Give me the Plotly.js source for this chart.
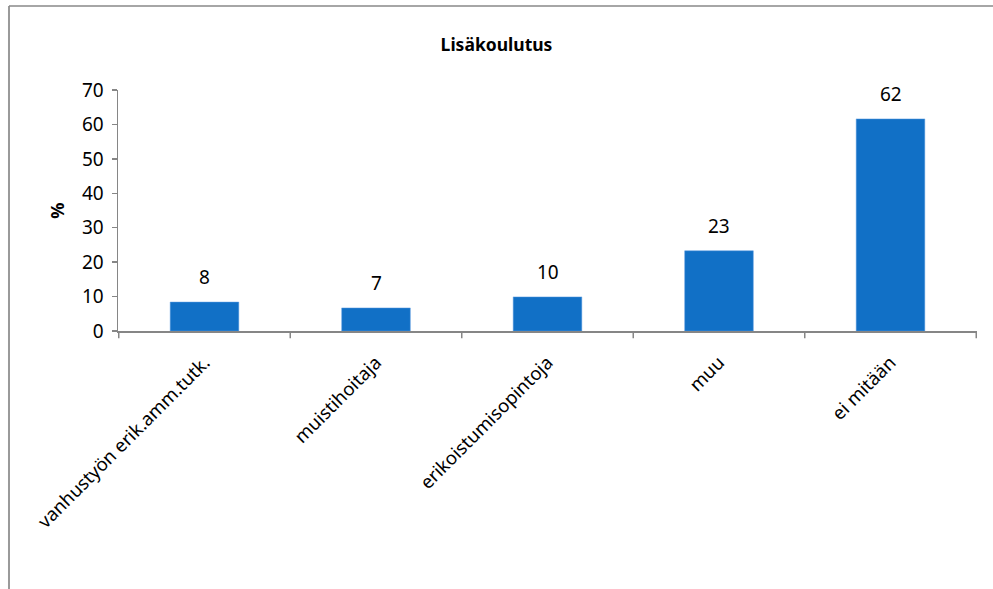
<!DOCTYPE html>
<html>
<head>
<meta charset="utf-8">
<script src="https://cdn.plot.ly/plotly-3.0.1.min.js"></script>
<style>html,body{margin:0;padding:0;background:#fff;}#chart{width:993px;height:589px;}</style>
</head>
<body>
<div id="chart"></div>
<script>
const categories = ["vanhustyön erik.amm.tutk.", "muistihoitaja", "erikoistumisopintoja", "muu", "ei mitään"];
const values = [8.4, 6.7, 9.9, 23.3, 61.6];
const labels = ["8", "7", "10", "23", "62"];
const yTicks = [0, 10, 20, 30, 40, 50, 60, 70];

const FONT = "Noto Sans, Liberation Sans, Arial, sans-serif";

const trace = {
  type: "bar",
  x: categories,
  y: values,
  marker: {color: "#1170C6", line: {color: "#5a9be0", width: 0.5}},
  width: 0.4,
  hoverinfo: "none"
};

const valueLabels = categories.map(function(c, i){
  return {x: c, y: values[i], xref: "x", yref: "y", text: labels[i], showarrow: false,
          yanchor: "middle", yshift: 25, font: {family: FONT, size: 19, color: "#000"}};
});

const layout = {
  width: 993, height: 589,
  margin: {l: 118, r: 16, t: 90, b: 258},
  paper_bgcolor: "#fff", plot_bgcolor: "#fff",
  showlegend: false,
  title: {text: "<b>Lisäkoulutus</b>", font: {family: FONT, size: 17.5, color: "#000"}, x: 0.5, xanchor: "center", y: 0.923, yanchor: "middle"},
  xaxis: {
    type: "category",
    tickangle: -45,
    tickfont: {family: FONT, size: 18.5, color: "#000"},
    ticklabelstandoff: 12,
    showline: true, linecolor: "#868686", linewidth: 1.5,
    ticks: "", showgrid: false, zeroline: false,
    fixedrange: true
  },
  yaxis: {
    range: [0, 70],
    tickvals: yTicks,
    ticktext: yTicks.map(String),
    tickfont: {family: FONT, size: 19, color: "#000"},
    ticklabelstandoff: 4,
    showline: true, linecolor: "#868686", linewidth: 1.5,
    ticks: "outside", ticklen: 5, tickcolor: "#868686", tickwidth: 1.5,
    showgrid: false, zeroline: false,
    title: {text: "<b>%</b>", font: {family: FONT, size: 18, color: "#000"}, standoff: 12},
    fixedrange: true
  },
  annotations: valueLabels,
  shapes: [
    {type: "line", xref: "paper", yref: "paper", x0: -0.1269, x1: -0.1269, y0: 1.349, y1: -1.2, line: {color: "#9a9a9a", width: 2}},
    {type: "line", xref: "paper", yref: "paper", x0: -0.1269, x1: 1.03, y0: 1.349, y1: 1.349, line: {color: "#888888", width: 1.5}}
  ].concat([-0.5, 0.5, 1.5, 2.5, 3.5, 4.5].map(function(p){
    return {type: "line", xref: "x", yref: "paper", x0: p, x1: p, y0: 0, y1: -0.03, line: {color: "#868686", width: 1.5}};
  }))
};

Plotly.newPlot("chart", [trace], layout, {displayModeBar: false, staticPlot: true});
</script>
</body>
</html>
